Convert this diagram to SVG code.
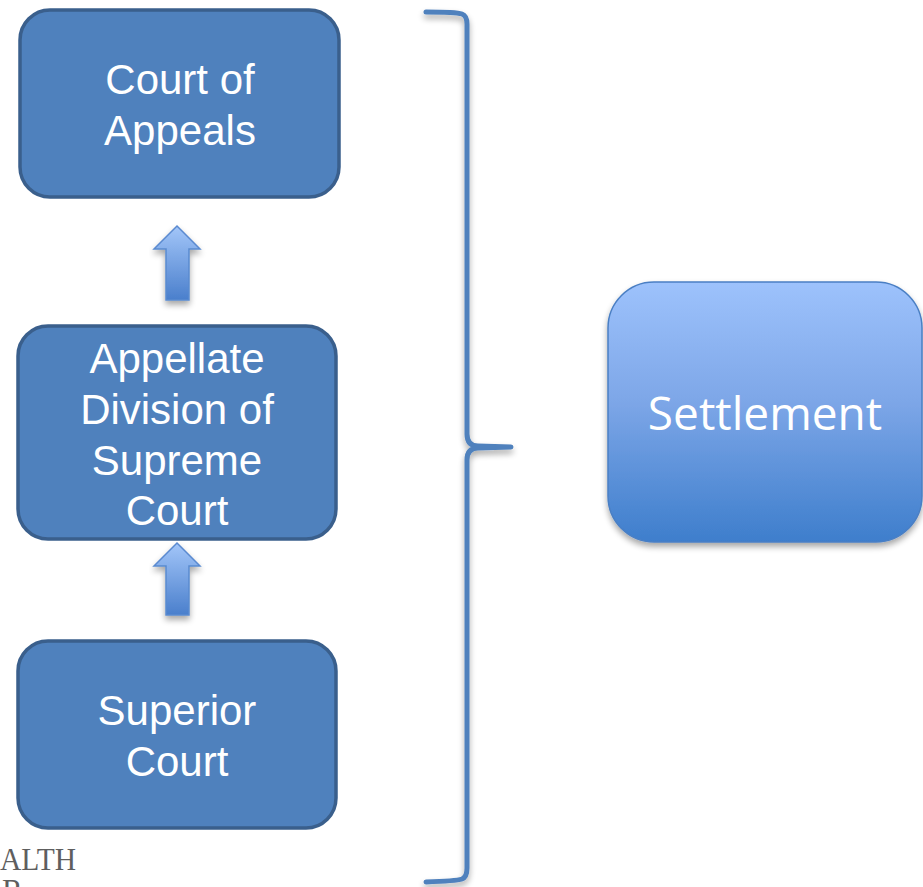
<svg xmlns="http://www.w3.org/2000/svg" width="923" height="887" viewBox="0 0 923 887">
  <style>
    .court { fill: #4f81bd; stroke: #3a5f8c; stroke-width: 3.5; }
    .court-label { font-family: "Liberation Sans", Arial, sans-serif; font-size: 42px; fill: #ffffff; text-anchor: middle; }
    .up-arrow { fill: url(#arrowFill); stroke: #5a8ad0; stroke-width: 1.5; }
    .brace { fill: none; stroke: #4f81bd; stroke-width: 5; stroke-linecap: round; stroke-linejoin: round; }
    .logo { font-family: "Liberation Serif", "Times New Roman", serif; font-size: 31px; fill: #5e5e5e; }
  </style>
  <defs>
    <linearGradient id="arrowFill" x1="0" y1="0" x2="0" y2="1">
      <stop offset="0" stop-color="#a3c6f9"/>
      <stop offset="1" stop-color="#4a7fcc"/>
    </linearGradient>
    <linearGradient id="settleFill" x1="0" y1="0" x2="0" y2="1">
      <stop offset="0" stop-color="#9dc2fc"/>
      <stop offset="0.45" stop-color="#7ea7e8"/>
      <stop offset="1" stop-color="#3e7ecc"/>
    </linearGradient>
    <filter id="softShadow" x="-10%" y="-10%" width="130%" height="130%">
      <feGaussianBlur in="SourceAlpha" stdDeviation="3"/>
      <feOffset dx="0" dy="4" result="b"/>
      <feComponentTransfer><feFuncA type="linear" slope="0.35"/></feComponentTransfer>
      <feMerge><feMergeNode/><feMergeNode in="SourceGraphic"/></feMerge>
    </filter>
  </defs>

  <!-- appeal path: trial court up to the top appellate court -->
  <g id="court-of-appeals">
    <rect class="court" x="20" y="10" width="319" height="187" rx="30"/>
    <text class="court-label" x="180" y="94">Court of</text>
    <text class="court-label" x="180" y="145">Appeals</text>
  </g>

  <g id="appellate-division">
    <rect class="court" x="18" y="326" width="318" height="213" rx="30"/>
    <text class="court-label" x="177" y="373">Appellate</text>
    <text class="court-label" x="177" y="424">Division of</text>
    <text class="court-label" x="177" y="475">Supreme</text>
    <text class="court-label" x="177" y="525">Court</text>
  </g>

  <g id="superior-court">
    <rect class="court" x="18" y="641" width="318" height="187" rx="30"/>
    <text class="court-label" x="177" y="725">Superior</text>
    <text class="court-label" x="177" y="776">Court</text>
  </g>

  <g id="connectors">
    <!-- block arrows between the court levels -->
    <path class="up-arrow" filter="url(#softShadow)" d="M177 226 L200 249 L189 249 L189 300 L166 300 L166 249 L154 249 Z"/>
    <path class="up-arrow" filter="url(#softShadow)" d="M177 543 L200 566 L189 566 L189 615 L166 615 L166 566 L154 566 Z"/>
    <!-- brace grouping all court levels toward settlement -->
    <path class="brace" filter="url(#softShadow)" d="M426 12 Q456 12 462 14 Q467 16 467 24 L467 434 Q467 446 478 446 L511 447 L478 448 Q467 448 467 460 L467 868 Q467 877 462 879 Q456 881 426 882"/>
  </g>

  <g id="settlement">
    <rect x="608" y="282" width="314" height="260" rx="46" fill="url(#settleFill)" stroke="#4a7fc4" stroke-width="1.5" filter="url(#softShadow)"/>
    <text x="765" y="430" font-family="'Open Sans', 'Noto Sans', sans-serif" font-size="46" fill="#ffffff" text-anchor="middle">Settlement</text>
  </g>

  <!-- partial footer logo -->
  <text class="logo" x="0" y="870" textLength="76" lengthAdjust="spacingAndGlyphs">ALTH</text>
  <text class="logo" x="2" y="901">R</text>
</svg>
